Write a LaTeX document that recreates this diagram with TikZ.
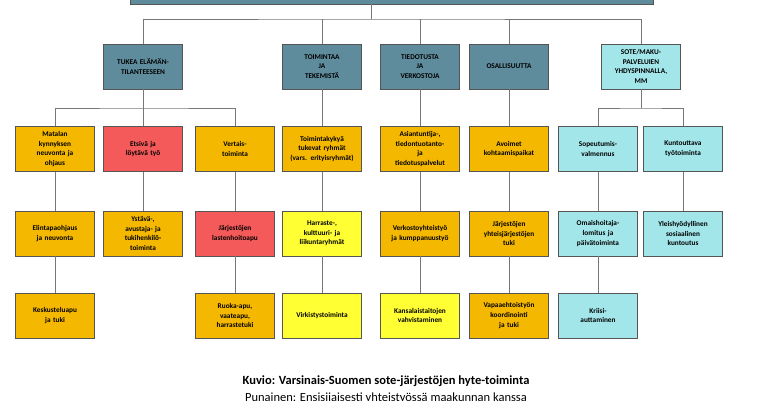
\documentclass[tikz,border=0pt]{standalone}
\usepackage{fontspec}
\setmainfont{Carlito}
\definecolor{teal1}{HTML}{5F8C9C}
\definecolor{cyan1}{HTML}{A2E6EA}
\definecolor{org}{HTML}{F5B800}
\definecolor{red1}{HTML}{F55A5A}
\definecolor{yel}{HTML}{FFFF33}
\definecolor{edge}{HTML}{555555}
\tikzset{
 bx/.style={draw=edge,line width=0.9pt,minimum width=79pt,minimum height=45pt,inner sep=1pt,align=center,font=\fontsize{7.3}{9.6}\selectfont\bfseries,text width=77pt},
 tl/.style={bx,fill=teal1},
 cy/.style={bx,fill=cyan1},
 og/.style={bx,fill=org},
 rd/.style={bx,fill=red1},
 yl/.style={bx,fill=yel},
 ln/.style={draw=edge!80,line width=0.9pt}
}
\begin{document}
\begin{tikzpicture}[x=1pt,y=-1pt]
\useasboundingbox (0,0) rectangle (760,400);
\fill[white] (0,0) rectangle (760,400);
\node[draw=edge,line width=0.9pt,fill=teal1,minimum width=523pt,minimum height=20pt,inner sep=0] (top) at (391.5,-6) {};
\node[tl] (a) at (143,66.5) {TUKEA ELÄMÄN-\\TILANTEESEEN};
\node[tl] (b) at (322,66.5) {TOIMINTAA\\JA\\TEKEMISTÄ};
\node[tl] (c) at (420,66.5) {TIEDOTUSTA\\JA\\VERKOSTOJA};
\node[tl] (d) at (509,66.5) {OSALLISUUTTA};
\node[cy] (e) at (641,66.5) {SOTE/MAKU-\\PALVELUIEN\\YHDYSPINNALLA,\\MM};
\node[og] (a1) at (55,149) {Matalan\\kynnyksen\\neuvonta ja\\ohjaus};
\node[rd] (a2) at (143,149) {Etsivä ja\\löytävä työ};
\node[og] (a3) at (235,149) {Vertais-\\toiminta};
\node[og] (b1) at (322,149) {Toimintakykyä\\tukevat ryhmät\\(vars. erityisryhmät)};
\node[og] (c1) at (420,149) {Asiantuntija-,\\tiedontuotanto-\\ja\\tiedotuspalvelut};
\node[og] (d1) at (509,149) {Avoimet\\kohtaamispaikat};
\node[cy] (e1) at (598,149) {Sopeutumis-\\valmennus};
\node[cy] (e2) at (683,149) {Kuntouttava\\työtoiminta};
\node[og] (a1b) at (55,233.5) {Elintapaohjaus\\ja neuvonta};
\node[og] (a2b) at (143,233.5) {Ystävä-,\\avustaja- ja\\tukihenkilö-\\toiminta};
\node[rd] (a3b) at (235,233.5) {Järjestöjen\\lastenhoitoapu};
\node[yl] (b1b) at (322,233.5) {Harraste-,\\kulttuuri- ja\\liikuntaryhmät};
\node[og] (c1b) at (420,233.5) {Verkostoyhteistyö\\ja kumppanuustyö};
\node[og] (d1b) at (509,233.5) {Järjestöjen\\yhteisjärjestöjen\\tuki};
\node[cy] (e1b) at (598,233.5) {Omaishoitaja-\\lomitus ja\\päivätoiminta};
\node[cy] (e2b) at (683,233.5) {Yleishyödyllinen\\sosiaalinen\\kuntoutus};
\node[og] (a1c) at (55,315.5) {Keskusteluapu\\ja tuki};
\node[og] (a3c) at (235,315.5) {Ruoka-apu,\\vaateapu,\\harrastetuki};
\node[yl] (b1c) at (322,315.5) {Virkistystoiminta};
\node[yl] (c1c) at (420,315.5) {Kansalaistaitojen\\vahvistaminen};
\node[og] (d1c) at (509,315.5) {Vapaaehtoistyön\\koordinointi\\ja tuki};
\node[cy] (e1c) at (598,315.5) {Kriisi-\\auttaminen};
\coordinate (j) at (371,19);
\draw[ln] (top.south -| j) -- (j);
\draw[ln] (a.north) |- (j) -| (e.north);
\foreach \n in {b,c,d} \draw[ln] (\n.north) -- (\n.north |- j);
\draw[ln] (a.south) -- (a2.north);
\draw[ln] (a1.north) |- (143,108) -| (a3.north);
\draw[ln] (e.south) -- (641,108);
\draw[ln] (e1.north) |- (641,108) -| (e2.north);
\foreach \p/\q in {b/b1,c/c1,d/d1,a1/a1b,a2/a2b,a3/a3b,b1/b1b,c1/c1b,d1/d1b,e1/e1b,e2/e2b,a1b/a1c,a3b/a3c,b1b/b1c,c1b/c1c,d1b/d1c,e1b/e1c}
 \draw[ln] (\p.south) -- (\q.north);
\node[font=\fontsize{12.5}{14}\selectfont\bfseries] (cap) at (386,381) {Kuvio: Varsinais-Suomen sote-järjestöjen hyte-toiminta};
\node[font=\fontsize{12.5}{14}\selectfont,anchor=north] (cap2) at (386,389) {Punainen: Ensisijaisesti yhteistyössä maakunnan kanssa};
\end{tikzpicture}
\end{document}
